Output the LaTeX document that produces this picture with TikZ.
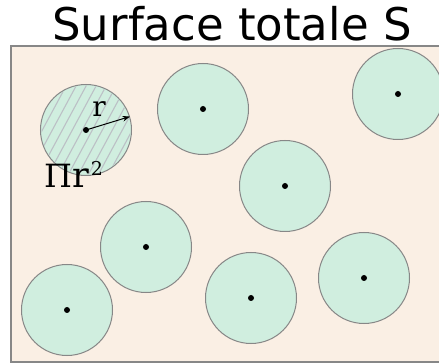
\documentclass[tikz,border=0pt]{standalone}
\usepackage{fontspec}
\usepackage{tikz}
\usetikzlibrary{arrows.meta}
\newfontfamily\titlefont{DejaVu Sans}
\newfontfamily\labelfont{DejaVu Serif}
\definecolor{paper}{RGB}{250,239,228}
\definecolor{mint}{RGB}{208,238,223}
\definecolor{rim}{RGB}{135,135,135}
\definecolor{hatchgray}{RGB}{188,192,198}

\begin{document}
\begin{tikzpicture}[x=1pt, y=-1pt, >=Stealth,
  disc/.style={circle, draw=rim, line width=1pt, fill=mint, minimum size=91pt, inner sep=0pt},
  hatchline/.style={draw=hatchgray, line width=1.1pt},
  lbl/.style={inner sep=0pt, font=\labelfont\fontsize{32}{32}\selectfont}]
  \useasboundingbox (0,0) rectangle (439,363);
  % surface
  \node[draw=rim, line width=1.6pt, fill=paper, minimum width=436pt, minimum height=316pt,
        inner sep=0pt, anchor=north west] (surf) at (10,45) {};
  \node[inner sep=0pt, anchor=base, font=\titlefont\fontsize{45}{45}\selectfont] (title) at (232,41) {Surface totale S};
  % discs
  \node[disc] (d1) at (86,130) {};
  \node[disc] (d2) at (203,109) {};
  \node[disc] (d3) at (285,186) {};
  \node[disc] (d4) at (398,94) {};
  \node[disc] (d5) at (146,247) {};
  \node[disc] (d6) at (67,310) {};
  \node[disc] (d7) at (251,298) {};
  \node[disc] (d8) at (364,278) {};
  % hatching of the first disc
  \begin{scope}
    \clip (d1.center) circle (44.5);
    \foreach \x in {-30,-20,...,160}
      \draw[hatchline] (\x,190) -- (\x+62,75);
  \end{scope}
  \foreach \d in {d1,d2,d3,d4,d5,d6,d7,d8}
    \fill (\d.center) circle (3);
  \draw[->, line width=1pt] (d1.center) -- (d1.17);
  \node[lbl, anchor=base, font=\labelfont\fontsize{28}{28}\selectfont] (rad) at (99,117) {r};
  \node[lbl, anchor=base west] (area) at (44,188) {Π{\fontsize{35}{35}\selectfont r}\kern2pt\raisebox{12pt}{\fontsize{19}{19}\selectfont 2}};
\end{tikzpicture}
\end{document}
